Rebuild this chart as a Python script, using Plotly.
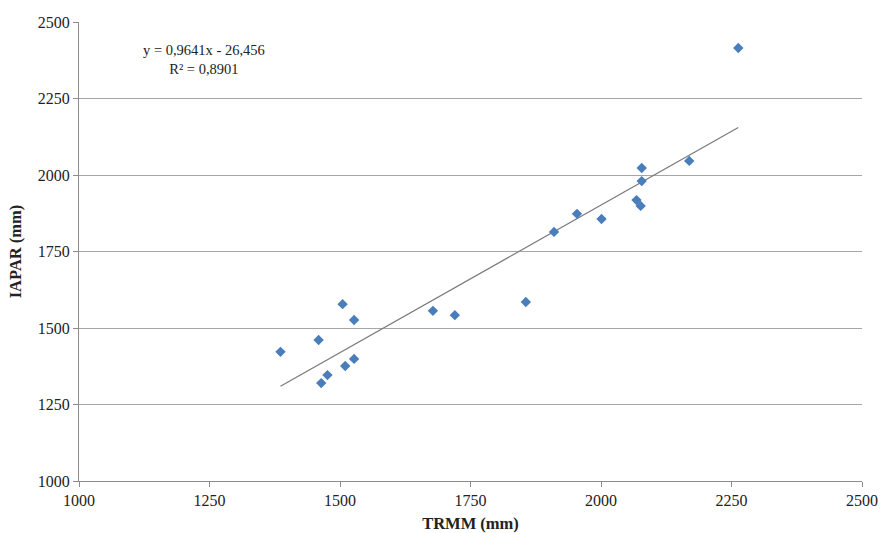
import plotly.graph_objects as go

trmm = [2263, 2169, 2078, 2078, 2068, 2076, 2001, 1954, 1910, 1856, 1720, 1678,
        1505, 1527, 1459, 1386, 1527, 1510, 1476, 1464]
iapar = [2415, 2046, 2023, 1980, 1918, 1899, 1856, 1873, 1814, 1585, 1542, 1556,
         1578, 1526, 1461, 1422, 1399, 1376, 1346, 1320]

slope = 0.9641
intercept = -26.456
eq_text = "y = 0,9641x - 26,456<br>R² = 0,8901"

x_ticks = [1000, 1250, 1500, 1750, 2000, 2250, 2500]
y_ticks = [1000, 1250, 1500, 1750, 2000, 2250, 2500]

FONT = "Liberation Serif"

fig = go.Figure()
xmin, xmax = min(trmm), max(trmm)
fig.add_trace(go.Scatter(
    x=[xmin, xmax], y=[slope * xmin + intercept, slope * xmax + intercept],
    mode="lines", line=dict(color="#7a7a7a", width=1.2), showlegend=False,
    hoverinfo="skip"))
fig.add_trace(go.Scatter(
    x=trmm, y=iapar, mode="markers",
    marker=dict(symbol="diamond", size=8, color="#4a7ebb"),
    showlegend=False))

fig.add_annotation(xref="paper", yref="paper", x=(204 - 79) / 783, y=1 - (60 - 22) / 460,
                   xanchor="center", yanchor="middle",
                   text=eq_text, showarrow=False, align="center",
                   font=dict(family=FONT, size=14.5, color="#222"))

fig.update_layout(
    width=882, height=533,
    margin=dict(l=79, r=20, t=22, b=52),
    plot_bgcolor="white", paper_bgcolor="white",
    font=dict(family=FONT, size=16, color="#222"),
)
fig.update_xaxes(
    range=[1000, 2500], tickvals=x_ticks, ticktext=[str(v) for v in x_ticks],
    showgrid=False, zeroline=False, showline=True, linecolor="#8c8c8c", linewidth=1,
    ticks="outside", ticklen=5, tickcolor="#8c8c8c", tickfont=dict(size=16),
    title=dict(text="<b>TRMM (mm)</b>", font=dict(family=FONT, size=16.5), standoff=12),
    automargin=False,
)
fig.update_yaxes(
    range=[1000, 2500], tickvals=y_ticks, ticktext=[str(v) for v in y_ticks],
    showgrid=True, gridcolor="#a6a6a6", gridwidth=1, zeroline=False,
    showline=True, linecolor="#8c8c8c", linewidth=1,
    ticks="outside", ticklen=5, tickcolor="#8c8c8c", tickfont=dict(size=16),
    title=dict(text="<b>IAPAR (mm)</b>", font=dict(family=FONT, size=16.5), standoff=12),
    automargin=False,
)

fig.write_html("out.html", config={"displayModeBar": False},
               post_script="document.body.style.margin='0';document.body.style.overflow='hidden';")
